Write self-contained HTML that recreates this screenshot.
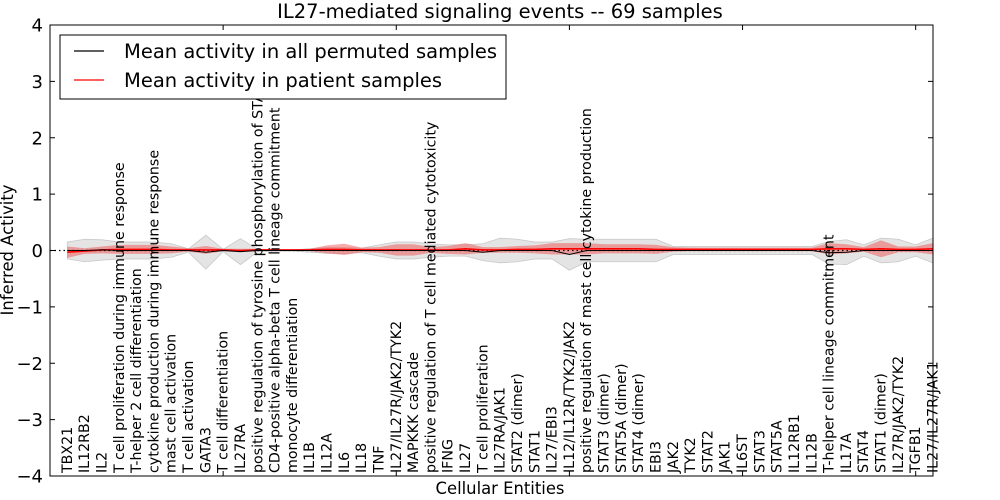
<!DOCTYPE html>
<html><head><meta charset="utf-8"><style>
html,body{margin:0;padding:0;background:#fff;width:1000px;height:500px;overflow:hidden}
text{font-family:"DejaVu Sans","Liberation Sans",sans-serif}
</style></head><body>
<svg id="chart" width="1000" height="500" xmlns="http://www.w3.org/2000/svg">
<text x="500" y="18" font-size="19.5" text-anchor="middle">IL27-mediated signaling events -- 69 samples</text>
<g id="plot"></g>
<text x="500" y="494" font-size="16.4" text-anchor="middle">Cellular Entities</text>
<text transform="translate(13,250) rotate(-90)" font-size="16.4" text-anchor="middle">Inferred Activity</text>
</svg>
<script>
const categories = ["TBX21","IL12RB2","IL2","T cell proliferation during immune response","T-helper 2 cell differentiation","cytokine production during immune response","mast cell activation","T cell activation","GATA3","T cell differentiation","IL27RA","positive regulation of tyrosine phosphorylation of STAT","CD4-positive alpha-beta T cell lineage commitment","monocyte differentiation","IL1B","IL12A","IL6","IL18","TNF","IL27/IL27R/JAK2/TYK2","MAPKKK cascade","positive regulation of T cell mediated cytotoxicity","IFNG","IL27","T cell proliferation","IL27RA/JAK1","STAT2 (dimer)","STAT1","IL27/EBI3","IL12/IL12R/TYK2/JAK2","positive regulation of mast cell cytokine production","STAT3 (dimer)","STAT5A (dimer)","STAT4 (dimer)","EBI3","JAK2","TYK2","STAT2","JAK1","IL6ST","STAT3","STAT5A","IL12RB1","IL12B","T-helper cell lineage commitment","IL17A","STAT4","STAT1 (dimer)","IL27R/JAK2/TYK2","TGFB1","IL27/IL27R/JAK1"];
const permMean = [0,0,0.01,0,0,0,0,0,-0.03,0,-0.02,0,0,0,0,0,0,0,0,0,0,0,0,0,-0.03,0,0,0,0,-0.07,0,0,0,0,0,0,0,0,0,0,0,0,0,0,-0.04,-0.03,0,0,0,0,0];
const permHalf = [0.15,0.2,0.18,0.15,0.15,0.15,0.12,0.03,0.3,0.02,0.23,0.02,0.01,0.01,0.03,0.05,0.05,0.04,0.1,0.15,0.15,0.12,0.1,0.1,0.15,0.22,0.2,0.15,0.15,0.28,0.2,0.2,0.2,0.2,0.2,0.07,0.07,0.07,0.07,0.07,0.07,0.07,0.07,0.07,0.2,0.22,0.1,0.22,0.2,0.1,0.22];
const patMean = [-0.03,-0.01,0.01,0.02,0.02,0.02,0.01,0.01,0.01,0.01,0,0.01,0.01,0.01,0.01,0.02,0.02,0.01,0.01,0.01,0.01,0.01,0.01,0.03,0.01,0.01,0.02,0.02,0.03,0.03,0.03,0.03,0.03,0.03,0.02,0.02,0.02,0.02,0.02,0.02,0.02,0.02,0.02,0.02,0.03,0.03,0.02,0.03,0.02,0.02,0.03];
const patHalf = [0.1,0.05,0.06,0.08,0.08,0.08,0.06,0.03,0.07,0.02,0.03,0.02,0.01,0.01,0.02,0.07,0.1,0.04,0.05,0.1,0.1,0.05,0.07,0.1,0.05,0.05,0.06,0.07,0.1,0.1,0.1,0.08,0.08,0.08,0.08,0.04,0.03,0.03,0.03,0.03,0.03,0.03,0.03,0.03,0.1,0.08,0.04,0.15,0.05,0.05,0.1];
const yTicks = [4,3,2,1,0,-1,-2,-3,-4];
const xTicks = [10,20,30,40,50];

const L=50,R=933,T=25,B=476;
const xS=v=>L+(v)/51*(R-L);
const x=i=>xS(i+1);
const y=v=>T+(4-v)/8*(B-T);
const NS="http://www.w3.org/2000/svg";
const g=document.getElementById('plot');
function mk(tag,attrs){const e=document.createElementNS(NS,tag);for(const k in attrs)e.setAttribute(k,attrs[k]);g.appendChild(e);return e;}
function band(mean,half){let up=mean.map((m,i)=>x(i)+','+y(m+half[i]));let lo=mean.map((m,i)=>x(i)+','+y(m-half[i])).reverse();return up.concat(lo).join(' ');}
let e=mk('polygon',{points:band(permMean,permHalf),fill:'#d9d9d9','fill-opacity':0.7,stroke:'#c8c8c8','stroke-width':0.8});


e=mk('polygon',{points:band(patMean,patHalf),fill:'#f04040','fill-opacity':0.45,stroke:'none'});


e=mk('line',{x1:L,x2:R,y1:y(0),y2:y(0),stroke:'#000','stroke-width':1.2,'stroke-dasharray':'1.5,3'});


e=mk('polyline',{points:patMean.map((m,i)=>x(i)+','+y(m)).join(' '),fill:'none',stroke:'#f00','stroke-width':1.6});


e=mk('polyline',{points:permMean.map((m,i)=>x(i)+','+y(m)).join(' '),fill:'none',stroke:'#000','stroke-width':1});


e=mk('rect',{x:L,y:T,width:R-L,height:B-T,fill:'none',stroke:'#000','stroke-width':1});


yTicks.forEach(v=>{
  let t=mk('line',{x1:L,x2:L+5,y1:y(v),y2:y(v),stroke:'#000'});
  
  
  t=mk('line',{x1:R-5,x2:R,y1:y(v),y2:y(v),stroke:'#000'});
  
  
  const tx=mk('text',{x:L-7,y:y(v)+6.5,'font-size':18,'text-anchor':'end'});
  tx.textContent=(v<0?'\u2212'+(-v):String(v));
  
  
});
xTicks.forEach(v=>{
  let t=mk('line',{x1:xS(v),x2:xS(v),y1:B,y2:B-5,stroke:'#000'});
  
  
  t=mk('line',{x1:xS(v),x2:xS(v),y1:T,y2:T+5,stroke:'#000'});
  
  
});
categories.forEach((c,i)=>{
  const tx=mk('text',{transform:`translate(${x(i)+4.5},${B-3}) rotate(-90)`,'font-size':14.2});
  tx.textContent=c;
  
  
});
// legend
e=mk('rect',{x:60,y:35,width:446,height:64,fill:'#fff',stroke:'#000','stroke-width':1});


e=mk('line',{x1:74,x2:104,y1:51,y2:51,stroke:'#000','stroke-width':1.2});


e=mk('line',{x1:74,x2:104,y1:80,y2:80,stroke:'#f00','stroke-width':1.2});


e=mk('text',{x:124,y:58,'font-size':19.5});
e.textContent='Mean activity in all permuted samples';


e=mk('text',{x:124,y:87,'font-size':19.5});
e.textContent='Mean activity in patient samples';


</script>
</body></html>
